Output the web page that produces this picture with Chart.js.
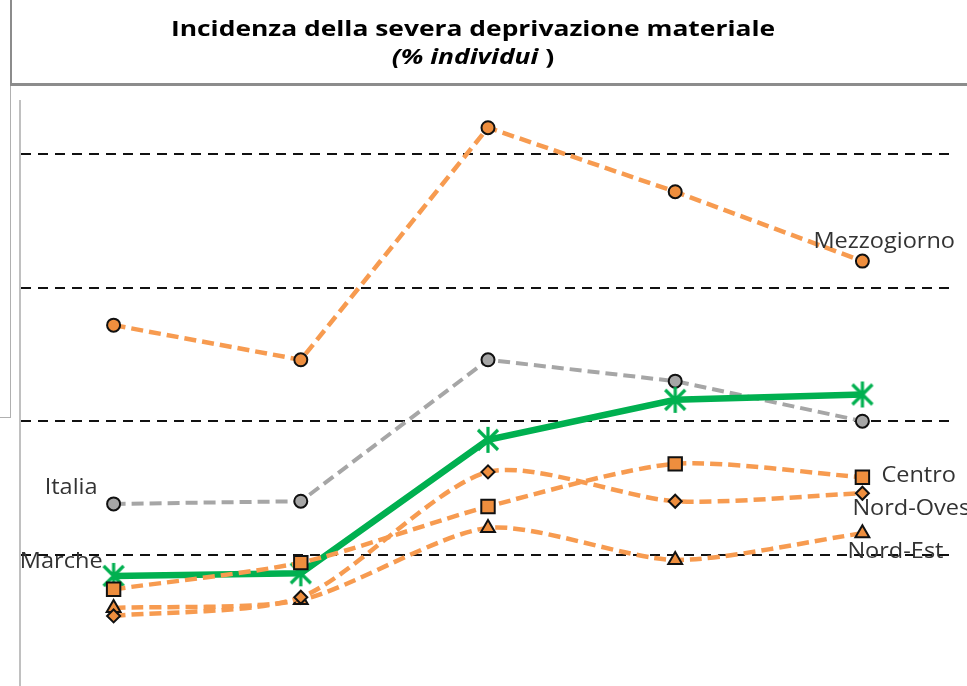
<!DOCTYPE html>
<html>
<head>
<meta charset="utf-8">
<script src="https://cdn.jsdelivr.net/npm/chart.js@4"></script>
<style>
    html, body { margin: 0; padding: 0; background: #fff; overflow: hidden; width: 967px; height: 686px; }
    #wrap { position: relative; width: 967px; height: 686px; }
    #chart { position: absolute; left: 0; top: 0; }
    .titolo { position: absolute; left: 0; width: 946px; text-align: center; font-family: "Open Sans", Lato, sans-serif; font-weight: bold; color: #000; line-height: 30px; white-space: nowrap; transform: scaleX(1.2); transform-origin: 473px 50%; }
    #t1 { top: 12px; font-size: 22px; }
    #t2 { top: 40px; font-size: 22px; }
    #t2 i { font-style: italic; }
    .frame { position: absolute; background: #8c8c8c; }
</style>
</head>
<body>
<div id="wrap">
    <canvas id="chart" width="967" height="700"></canvas>
    <div class="frame" style="left:10px; top:0; width:2px; height:84px;"></div>
    <div class="frame" style="left:10px; top:84px; width:1px; height:334px; background:#b0b0b0;"></div>
    <div class="frame" style="left:0; top:417px; width:11px; height:1px; background:#b0b0b0;"></div>
    <div class="frame" style="left:10px; top:83px; width:957px; height:3px;"></div>
    <div class="titolo" id="t1">Incidenza della severa deprivazione materiale</div>
    <div class="titolo" id="t2"><i>(% individui </i>)</div>
</div>
<script>
// ========== DATI ==========
const anni = ["1", "2", "3", "4", "5"];
const mezzogiorno = [13.6, 12.3, 21.0, 18.6, 16.0];
const italia = [6.9, 7.0, 12.3, 11.5, 10.0];
const marche = [4.2, 4.3, 9.3, 10.8, 11.0];
const centro = [3.7, 4.7, 6.8, 8.4, 7.9];
const nordOvest = [2.7, 3.4, 8.1, 7.0, 7.3];
const nordEst = [3.0, 3.3, 6.0, 4.8, 5.8];
const yTicks = [5, 10, 15, 20];

const ARANCIO = "#F79B50";
const ARANCIO_PUNTI = "#EE8E3E";
const GRIGIO = "#A6A6A6";
const VERDE = "#00B050";

// marker asterisco (stile Excel)
function creaAsterisco() {
    const c = document.createElement("canvas");
    c.width = 28;
    c.height = 28;
    const g = c.getContext("2d");
    g.strokeStyle = VERDE;
    g.lineWidth = 3.2;
    g.beginPath();
    g.moveTo(14, 1); g.lineTo(14, 27);
    g.moveTo(4, 4); g.lineTo(24, 24);
    g.moveTo(24, 4); g.lineTo(4, 24);
    g.stroke();
    return c;
}

// ========== ETICHETTE SERIE ==========
const etichettePlugin = {
    id: "etichette",
    afterDatasetsDraw(chart, args, opts) {
        const ctx = chart.ctx;
        opts.items.forEach((it) => {
            const pt = chart.getDatasetMeta(it.ds).data[it.idx];
            ctx.save();
            ctx.font = opts.font;
            ctx.fillStyle = opts.color;
            ctx.textBaseline = "middle";
            ctx.textAlign = it.align;
            // testo leggermente allargato come nell'originale
            ctx.translate(pt.x + it.dx, pt.y + it.dy);
            ctx.scale(opts.stretch, 1);
            ctx.fillText(chart.data.datasets[it.ds].label, 0, 0);
            ctx.restore();
        });
    },
};

const serieTratteggiata = (label, data, style, radius, order, tension) => ({
    label,
    data,
    borderColor: ARANCIO,
    borderWidth: 4.5,
    borderDash: [12, 6],
    pointStyle: style,
    pointRadius: radius,
    pointBackgroundColor: ARANCIO_PUNTI,
    pointBorderColor: "#111",
    pointBorderWidth: 2,
    tension,
    order,
});

new Chart(document.getElementById("chart"), {
    type: "line",
    data: {
        labels: anni,
        datasets: [
            serieTratteggiata("Mezzogiorno", mezzogiorno, "circle", 6.5, 6, 0),
            {
                label: "Italia",
                data: italia,
                borderColor: GRIGIO,
                borderWidth: 4,
                borderDash: [12, 6],
                pointStyle: "circle",
                pointRadius: 6.5,
                pointBackgroundColor: GRIGIO,
                pointBorderColor: "#111",
                pointBorderWidth: 2,
                tension: 0,
                order: 5,
            },
            serieTratteggiata("Nord-Est", nordEst, "triangle", 8, 4, 0.25),
            serieTratteggiata("Nord-Ovest", nordOvest, "rectRot", 6.5, 3, 0.25),
            {
                label: "Marche",
                data: marche,
                borderColor: VERDE,
                borderWidth: 6.5,
                pointStyle: creaAsterisco(),
                pointRadius: 13,
                tension: 0,
                order: 2,
            },
            serieTratteggiata("Centro", centro, "rect", 9.5, 1, 0.25),
        ],
    },
    plugins: [etichettePlugin],
    options: {
        responsive: false,
        animation: false,
        devicePixelRatio: 1,
        layout: { autoPadding: false, padding: { left: 20, right: 11, top: 101, bottom: 12 } },
        plugins: {
            legend: { display: false },
            tooltip: { enabled: false },
            etichette: {
                font: "21px 'Open Sans', Lato, sans-serif",
                color: "#333",
                stretch: 1.12,
                items: [
                    { ds: 0, idx: 4, dx: -49, dy: -19, align: "left" },
                    { ds: 1, idx: 0, dx: -16, dy: -16, align: "right" },
                    { ds: 4, idx: 0, dx: -11, dy: -14, align: "right" },
                    { ds: 5, idx: 4, dx: 19, dy: -1, align: "left" },
                    { ds: 3, idx: 4, dx: -10, dy: 16, align: "left" },
                    { ds: 2, idx: 4, dx: -15, dy: 19, align: "left" },
                ],
            },
        },
        scales: {
            x: { display: false, offset: true },
            y: {
                min: 0,
                max: 22,
                afterFit: (s) => { s.width = 0; },
                afterBuildTicks: (s) => { s.ticks = yTicks.map((v) => ({ value: v })); },
                ticks: { display: false },
                border: { display: true, color: "#c0c0c0", width: 2, dash: [10, 7] },
                grid: {
                    drawTicks: false,
                    color: "#111",
                    lineWidth: 2,
                },
            },
        },
    },
});
</script>
</body>
</html>
